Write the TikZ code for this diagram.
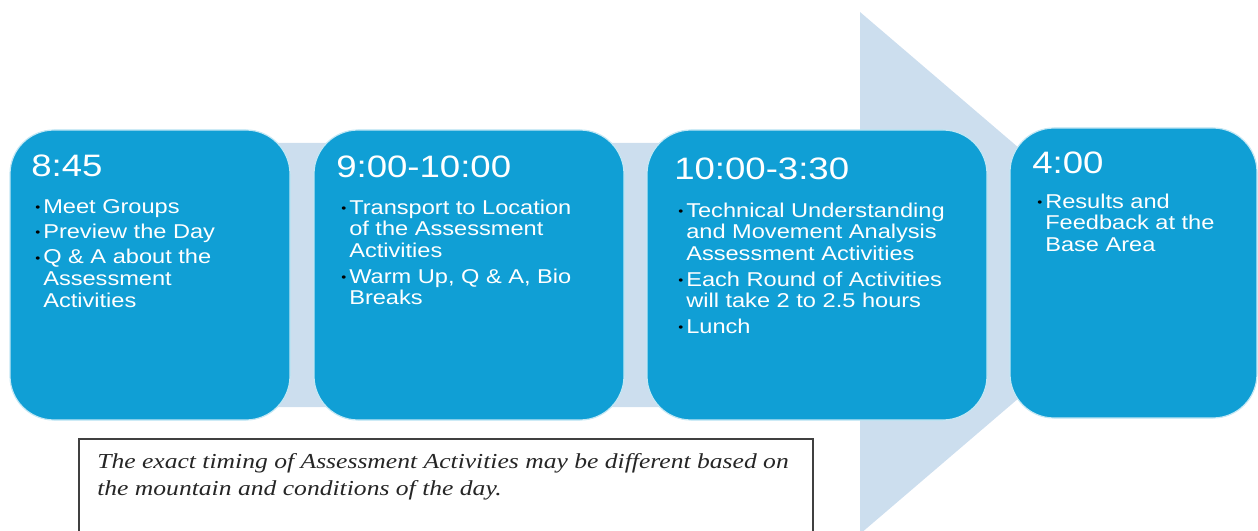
\documentclass[tikz,border=0pt]{standalone}
\usepackage{fontspec}
\setmainfont{Liberation Serif}
\newfontfamily\boxfont{Liberation Sans}[FakeStretch=1.18]
\newfontfamily\notefont{Liberation Serif}[FakeStretch=1.2]
\usepackage{xcolor}
\definecolor{stageblue}{RGB}{16,159,213}
\definecolor{arrowblue}{RGB}{204,222,238}
\definecolor{notegray}{RGB}{64,64,64}
\newcommand{\itm}{\makebox[6pt][l]{\raisebox{1.2pt}{\color{black}\fontsize{9}{9}\selectfont\textbullet}}}
\newcommand{\ind}{\hspace*{6pt}}
\newcommand{\firstline}{\rule{0pt}{11pt}}

\begin{document}
\begin{tikzpicture}[x=0.75pt,y=0.75pt,yscale=-1,xscale=1]
\tikzset{
  stagebox/.style={fill=stageblue,draw=white!75!stageblue,line width=0.9pt,rounded corners=33pt},
  stagetitle/.style={anchor=base west,inner sep=0pt,text=white,font=\boxfont\fontsize{23.25}{28}\selectfont},
  stagelist/.style={anchor=north west,inner sep=0pt,text=white,align=left,font=\boxfont\fontsize{15}{16.3}\selectfont},
  notetext/.style={anchor=north west,inner sep=0pt,align=left,text=black!85,font=\notefont\itshape\fontsize{16}{20.25}\selectfont}
}
\useasboundingbox (0,0) rectangle (1258,531);

%Shape: Right Arrow
\fill [arrowblue] (30,143) -- (860,143) -- (860,12) -- (1165,273) -- (860,534) -- (860,407) -- (30,407) -- cycle ;

%Shape: Rounded Rectangle
\draw [stagebox] (10,130) rectangle (290,420) ;
%Shape: Rounded Rectangle
\draw [stagebox] (314,130) rectangle (624,420) ;
%Shape: Rounded Rectangle
\draw [stagebox] (647,130) rectangle (987,420) ;
%Shape: Rounded Rectangle
\draw [stagebox] (1010,128) rectangle (1257,418) ;

% Text Node
\node [stagetitle] (t845) at (31,177) {8:45};
% Text Node
\node [stagelist] (l845) at (35,198.3) {\firstline\itm Meet Groups\\[2.7pt]
  \itm Preview the Day\\[2.7pt]
  \itm Q \& A about the\\ \ind Assessment\\ \ind Activities};

% Text Node
\node [stagetitle] (t900) at (336,178) {9:00-10:00};
% Text Node
\node [stagelist] (l900) at (341,199.3) {\firstline\itm Transport to Location\\ \ind of the Assessment\\ \ind Activities\\[2.7pt]
  \itm Warm Up, Q \& A, Bio\\ \ind Breaks};

% Text Node
\node [stagetitle] (t1000) at (674,180) {10:00-3:30};
% Text Node
\node [stagelist] (l1000) at (678,202.3) {\firstline\itm Technical Understanding\\ \ind and Movement Analysis\\ \ind Assessment Activities\\[2.7pt]
  \itm Each Round of Activities\\ \ind will take 2 to 2.5 hours\\[2.7pt]
  \itm Lunch};

% Text Node
\node [stagetitle] (t400) at (1032,174) {4:00};
% Text Node
\node [stagelist] (l400) at (1037,193.3) {\firstline\itm Results and\\ \ind Feedback at the\\ \ind Base Area};

%Shape: Rectangle
\draw [notegray,line width=1.1pt,fill=white] (79,439) rectangle (813,545) ;
% Text Node
\node [notetext] (note) at (97,453.3) {\firstline The exact timing of Assessment Activities may be different based on\\
  the mountain and conditions of the day.};

\end{tikzpicture}
\end{document}
